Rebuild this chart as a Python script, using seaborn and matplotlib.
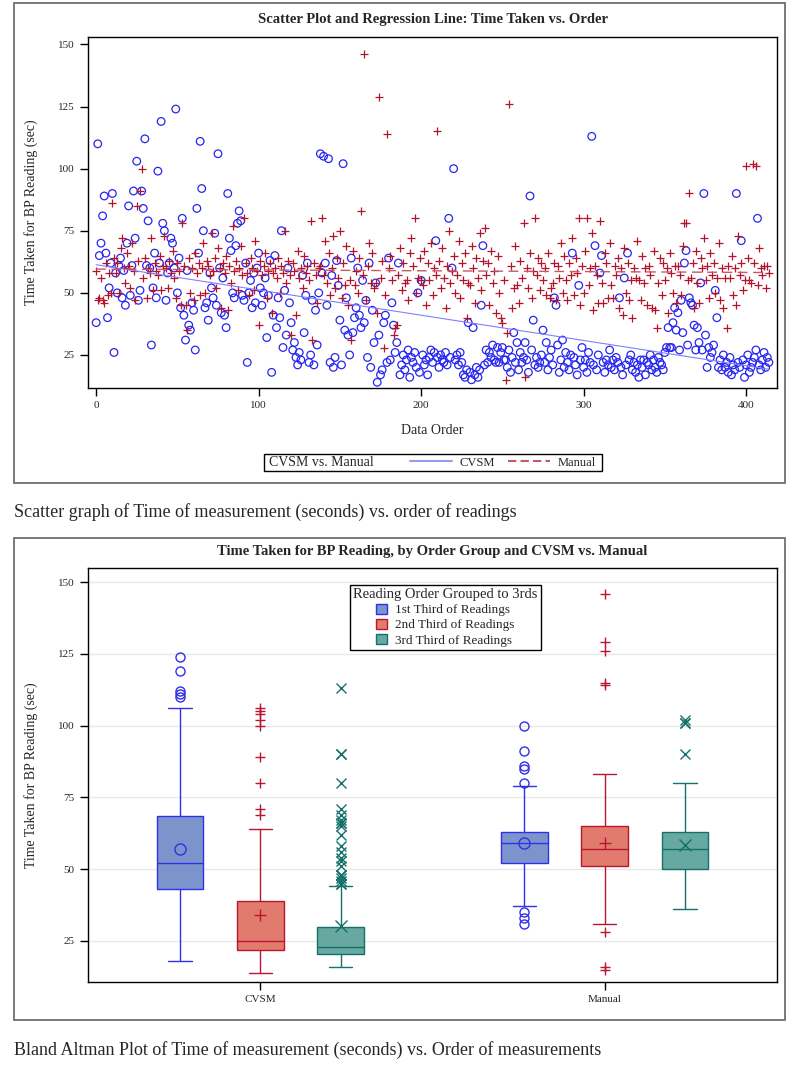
import numpy as np
import pandas as pd
import matplotlib
matplotlib.use("Agg")
import matplotlib.pyplot as plt
from matplotlib.patches import Patch, Rectangle
from matplotlib.lines import Line2D
import seaborn as sns

# time taken (sec) per reading, in data order 0..414
cvsm = [
    38, 110, 65, 70, 81, 89, 66, 40, 52, 62,
    90, 26, 58, 50, 61, 64, 48, 59, 45, 70,
    85, 49, 61, 91, 72, 103, 47, 51, 91, 84,
    112, 61, 79, 60, 29, 52, 66, 48, 99, 62,
    119, 78, 75, 47, 58, 62, 72, 70, 60, 124,
    50, 64, 44, 80, 41, 31, 59, 37, 35, 46,
    43, 27, 84, 66, 111, 92, 75, 44, 46, 39,
    58, 52, 48, 74, 45, 106, 60, 42, 56, 41,
    36, 90, 72, 67, 50, 48, 69, 78, 83, 79,
    49, 47, 62, 22, 50, 55, 44, 58, 46, 60,
    66, 52, 45, 50, 56, 32, 49, 63, 18, 41,
    65, 36, 48, 40, 75, 28, 51, 33, 60, 46,
    38, 27, 30, 24, 21, 26, 23, 57, 34, 49,
    62, 22, 25, 47, 21, 43, 29, 50, 106, 58,
    105, 62, 45, 104, 22, 57, 20, 24, 63, 53,
    39, 21, 102, 35, 48, 33, 25, 64, 34, 40,
    44, 60, 41, 36, 55, 38, 47, 24, 62, 20,
    43, 30, 54, 14, 33, 17, 19, 38, 41, 22,
    64, 23, 46, 37, 26, 30, 62, 17, 21, 25,
    19, 23, 27, 16, 24, 22, 26, 20, 50, 18,
    55, 25, 21, 23, 17, 24, 27, 22, 26, 71,
    24, 20, 25, 23, 22, 26, 21, 80, 24, 60,
    100, 23, 25, 21, 26, 22, 17, 16, 19, 38,
    18, 15, 36, 17, 20, 16, 19, 45, 69, 21,
    27, 22, 26, 24, 29, 23, 22, 28, 22, 26,
    28, 23, 23, 20, 27, 18, 24, 34, 22, 30,
    19, 26, 22, 24, 30, 23, 18, 89, 27, 39,
    21, 24, 20, 22, 25, 35, 22, 30, 19, 24,
    27, 21, 48, 45, 29, 18, 23, 31, 20, 26,
    22, 19, 25, 66, 24, 21, 17, 53, 23, 28,
    20, 23, 18, 26, 22, 113, 21, 69, 19, 25,
    58, 65, 22, 18, 23, 21, 27, 20, 23, 19,
    24, 22, 48, 20, 17, 56, 21, 66, 23, 25,
    19, 22, 18, 21, 16, 23, 20, 23, 17, 22,
    21, 25, 19, 23, 20, 18, 24, 22, 21, 19,
    26, 28, 36, 28, 28, 38, 44, 35, 42, 27,
    47, 34, 62, 67, 29, 48, 46, 45, 37, 27,
    36, 30, 54, 27, 90, 33, 20, 28, 24, 26,
    29, 51, 40, 20, 23, 19, 25, 20, 22, 18,
    24, 17, 21, 19, 90, 22, 20, 71, 23, 16,
    21, 25, 18, 20, 22, 24, 27, 80, 21, 19,
    23, 26, 20, 24, 22,
]

manual = [
    59, 47, 48, 56, 47, 46, 62, 49, 58, 50,
    86, 64, 58, 62, 50, 68, 72, 60, 54, 66,
    61, 52, 70, 59, 47, 85, 63, 91, 100, 56,
    64, 48, 60, 58, 72, 51, 62, 59, 57, 65,
    51, 61, 73, 60, 52, 63, 58, 67, 56, 48,
    62, 59, 45, 78, 61, 45, 35, 64, 50, 60,
    47, 66, 58, 62, 49, 60, 70, 50, 63, 61,
    57, 74, 59, 64, 52, 68, 60, 44, 62, 58,
    65, 43, 61, 54, 77, 59, 63, 51, 60, 69,
    57, 80, 62, 58, 49, 64, 60, 51, 71, 59,
    37, 63, 57, 61, 66, 48, 59, 62, 42, 58,
    60, 56, 64, 50, 61, 58, 75, 54, 63, 57,
    33, 62, 59, 41, 67, 56, 60, 52, 65, 58,
    61, 55, 79, 31, 62, 57, 46, 60, 61, 80,
    57, 71, 54, 66, 49, 60, 73, 52, 64, 56,
    75, 48, 62, 53, 69, 45, 55, 31, 67, 53,
    59, 50, 64, 83, 57, 146, 47, 61, 70, 54,
    66, 52, 54, 42, 129, 56, 63, 28, 49, 114,
    60, 65, 55, 33, 36, 37, 57, 68, 51, 62,
    54, 55, 47, 66, 72, 61, 80, 50, 56, 64,
    55, 53, 67, 45, 62, 55, 70, 49, 60, 57,
    115, 63, 52, 68, 56, 44, 61, 75, 54, 59,
    65, 50, 57, 71, 48, 62, 55, 66, 40, 54,
    53, 69, 60, 46, 64, 56, 74, 51, 63, 76,
    57, 62, 45, 67, 54, 59, 42, 65, 50, 40,
    38, 55, 15, 34, 126, 61, 44, 52, 69, 53,
    46, 63, 56, 78, 16, 60, 52, 66, 48, 59,
    80, 57, 64, 51, 62, 55, 60, 49, 66, 48,
    52, 54, 62, 47, 61, 56, 70, 50, 65, 55,
    47, 62, 57, 72, 49, 64, 58, 80, 45, 61,
    50, 67, 80, 53, 60, 74, 43, 61, 57, 46,
    79, 54, 46, 66, 62, 48, 70, 53, 48, 61,
    57, 64, 44, 60, 41, 68, 50, 62, 47, 55,
    40, 60, 56, 71, 55, 47, 65, 54, 60, 45,
    61, 57, 44, 67, 43, 36, 54, 64, 49, 62,
    55, 60, 42, 66, 58, 50, 61, 46, 61, 57,
    49, 69, 78, 78, 55, 90, 56, 62, 44, 67,
    54, 46, 64, 60, 72, 55, 61, 48, 66, 57,
    62, 50, 56, 70, 47, 60, 44, 56, 36, 61,
    56, 65, 49, 60, 45, 73, 57, 62, 51, 55,
    101, 64, 55, 54, 102, 62, 101, 53, 68, 60,
    57, 61, 52, 61, 58,
]

methods = ["CVSM", "Manual"]
thirds = ["1st Third of Readings", "2nd Third of Readings", "3rd Third of Readings"]
third_edges = [-1, 137, 275, 414]

fills = {thirds[0]: "#7B95CC", thirds[1]: "#E07B6D", thirds[2]: "#67A9A0"}
edges = {thirds[0]: "#3030E8", thirds[1]: "#BC1530", thirds[2]: "#13706A"}
marks = {thirds[0]: "o", thirds[1]: "+", thirds[2]: "x"}

order = np.arange(len(cvsm))
grp = pd.cut(order, bins=third_edges, labels=thirds)
df = pd.DataFrame({
    "time": cvsm + manual,
    "method": ["CVSM"] * len(cvsm) + ["Manual"] * len(manual),
    "third": list(grp) * 2,
})

sns.set_style("white")
plt.rcParams["font.family"] = ["Liberation Serif", "DejaVu Serif"]

W, H = 800, 1072
fig = plt.figure(figsize=(W / 100, H / 100), dpi=100)


def fx(px):
    return px / W


def fy(py):
    return 1 - py / H


# panel frames
for top, bot in [(3, 483), (538, 1020)]:
    fig.patches.append(Rectangle((fx(14), fy(bot)), fx(771), (bot - top) / H,
                                 transform=fig.transFigure, fill=False,
                                 edgecolor="#707070", lw=1.3))

# ---- top: scatter + regression ----
ax1 = fig.add_axes([fx(88), fy(388), fx(689), 351 / H])
sns.scatterplot(x=order, y=cvsm, marker="o", s=30, facecolors="none",
                edgecolor="#2626EE", linewidth=0.9, ax=ax1)
sns.scatterplot(x=order, y=manual, marker="+", s=34, color="#B3142C",
                linewidth=0.9, ax=ax1)
sns.regplot(x=order, y=np.array(cvsm, float), scatter=False, ci=None, ax=ax1,
            line_kws=dict(color="#8080FF", lw=0.8))
sns.regplot(x=order, y=np.array(manual, float), scatter=False, ci=None, ax=ax1,
            line_kws=dict(color="#C6586A", lw=1.0, ls=(0, (7, 4))))
ax1.set_xlim(-5, 419)
ax1.set_ylim(11.7, 153)
ax1.set_xticks([0, 100, 200, 300, 400])
ax1.set_yticks([25, 50, 75, 100, 125, 150])
ax1.set_xlabel("Data Order", fontsize=10, labelpad=10)
ax1.set_ylabel("Time Taken for BP Reading (sec)", fontsize=10)
ax1.yaxis.set_label_coords(-0.073, 0.5)
ax1.set_title("Scatter Plot and Regression Line: Time Taken vs. Order",
              fontsize=10.5, fontweight="bold", pad=10)

# inline legend box
fig.patches.append(Rectangle((fx(264), fy(471)), fx(338), 17 / H,
                             transform=fig.transFigure, fill=False,
                             edgecolor="black", lw=1))
fig.text(fx(269), fy(462.5), "CVSM vs. Manual", fontsize=10, va="center")
fig.legend(handles=[Line2D([], [], color="#9A9AF0", lw=1.5),
                    Line2D([], [], color="#C6586A", lw=1.5, ls=(0, (4, 2)))],
           labels=["CVSM", "Manual"], ncol=2, frameon=False, fontsize=9,
           loc="center", bbox_to_anchor=(fx(503), fy(462.5)),
           handlelength=3.4, columnspacing=1.0, handletextpad=0.6)

# ---- bottom: box plots ----
ax2 = fig.add_axes([fx(88), fy(982), fx(689), 414 / H])
ax2.set_axisbelow(True)
ax2.yaxis.grid(True, color="#E8E8E8", lw=1)
for t in thirds:
    sub = df[df["third"] == t]
    m = marks[t]
    ec = edges[t]
    mk = dict(marker=m, markerfacecolor="none", markeredgecolor=ec,
              markersize=6.5 if m != "+" else 7, markeredgewidth=1)
    sns.boxplot(data=sub, x="method", y="time", hue="third", order=methods,
                hue_order=thirds, palette=fills, saturation=1, dodge=True,
                width=0.7, gap=0.42, linecolor=ec, linewidth=1, showmeans=True,
                meanprops=dict(mk, markersize=8 if m != "+" else 9),
                flierprops=mk, legend=False, ax=ax2)
ax2.set_xlim(-0.5, 1.5)
ax2.set_ylim(10.7, 154.9)
ax2.set_yticks([25, 50, 75, 100, 125, 150])
ax2.set_xlabel("")
ax2.set_ylabel("Time Taken for BP Reading (sec)", fontsize=10)
ax2.yaxis.set_label_coords(-0.073, 0.5)
ax2.set_title("Time Taken for BP Reading, by Order Group and CVSM vs. Manual",
              fontsize=10.5, fontweight="bold", pad=9)
ax2.legend(handles=[Patch(facecolor=fills[t], edgecolor=edges[t]) for t in thirds],
           labels=thirds, title="Reading Order Grouped to 3rds",
           title_fontsize=10.5, fontsize=9.5, loc="upper left",
           bbox_to_anchor=(fx(343), fy(578)), bbox_transform=fig.transFigure,
           frameon=True, fancybox=False, edgecolor="black", framealpha=1,
           handlelength=0.8, handleheight=0.8, handletextpad=0.6,
           borderpad=0.25, labelspacing=0.2)

for ax in (ax1, ax2):
    for s in ax.spines.values():
        s.set_visible(True)
        s.set_color("black")
        s.set_linewidth(1)
    ax.tick_params(axis="both", which="both", direction="out", length=6,
                   width=1, labelsize=8, bottom=True, left=True,
                   top=False, right=False, color="black")

fig.text(fx(14), fy(512), "Scatter graph of Time of measurement (seconds) vs. order of readings",
         fontsize=13, va="center")
fig.text(fx(14), fy(1050), "Bland Altman Plot of Time of measurement (seconds) vs. Order of measurements",
         fontsize=13, va="center")

fig.savefig("out.png", dpi=100, facecolor="white")
